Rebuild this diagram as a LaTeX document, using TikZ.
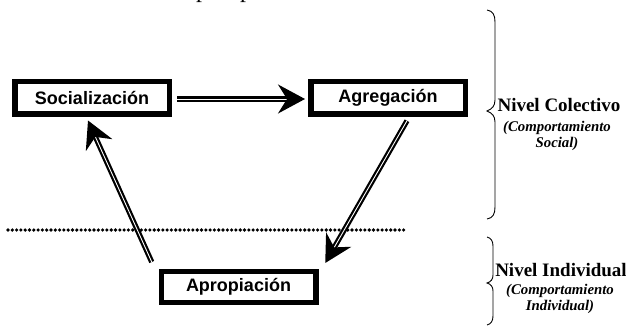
\documentclass[tikz,border=0pt]{standalone}
\usepackage{fontspec}
\setmainfont{Liberation Serif}
\newfontfamily\arialfont{Liberation Sans}
\usetikzlibrary{arrows.meta,calc}
\begin{document}
\begin{tikzpicture}[x=1pt,y=-1pt,
  box/.style={draw, line width=5.5pt, minimum width=154.5pt, minimum height=32.5pt, inner sep=0pt,
    font=\arialfont\bfseries\fontsize{18}{20}\selectfont},
  conn/.style={line width=2.2pt, double=white, double distance=0.9pt,
    -{Stealth[length=27pt,width=29pt,inset=9pt]}},
  lvl/.style={font=\bfseries\fontsize{19}{22}\selectfont, inner sep=0pt},
  sub/.style={font=\bfseries\itshape\fontsize{14.8}{16}\selectfont, align=center, inner sep=0pt},
  brace/.style={line width=0.9pt},
  frag/.style={anchor=base west, inner sep=0pt, font=\fontsize{24}{24}\selectfont}
]
\useasboundingbox (0,0) rectangle (626,326);
\begin{scope}
  \clip (0,0) rectangle (626,326);
  \node[frag] (f1) at (196,-2) {p};
  \node[frag] (f2) at (240,-2) {p};
\end{scope}

\node[box] (soc) at (92,98) {Socialización};
\node[box] (agg) at (388,98) {Agregación};
\node[box, minimum height=31pt] (apro) at (238.5,287) {Apropiación};

\coordinate (dl) at (8,230);
\coordinate (dr) at (406,230);
\draw[line width=3.6pt, line cap=round, dash pattern=on 0pt off 4.3pt] (dl) -- (dr);

\draw[conn] ([xshift=5pt,yshift=-1pt]soc.east) -- ([xshift=-3pt,yshift=-1pt]agg.west);
\draw[conn] ([xshift=-6.75pt,yshift=6.75pt]apro.north west) -- ([xshift=-4pt,yshift=-3.5pt]soc.south);
\draw[conn] ([xshift=19pt,yshift=-3.75pt]agg.south) -- ([xshift=6.75pt,yshift=5.75pt]apro.north east);

\draw[brace] (487,10) .. controls (493,11) and (495,15) .. (495,22) -- (495,100)
  .. controls (495,106) and (492,109) .. (487,111)
  .. controls (492,113) and (495,116) .. (495,122) -- (495,207)
  .. controls (495,214) and (493,218) .. (487,219);
\draw[brace] (487,237) .. controls (491,238) and (493,241) .. (493,246) -- (493,275)
  .. controls (493,279) and (491,282) .. (487,283)
  .. controls (491,284) and (493,287) .. (493,291) -- (493,316)
  .. controls (493,321) and (491,324) .. (487,325);

\node[lvl] (nc) at (559,105) {Nivel Colectivo};
\node[sub] (cs) at (557,136) {(Comportamiento\\Social)};
\node[lvl] (ni) at (561,270) {Nivel Individual};
\node[sub] (ci) at (560,299) {(Comportamiento\\Individual)};
\end{tikzpicture}
\end{document}
